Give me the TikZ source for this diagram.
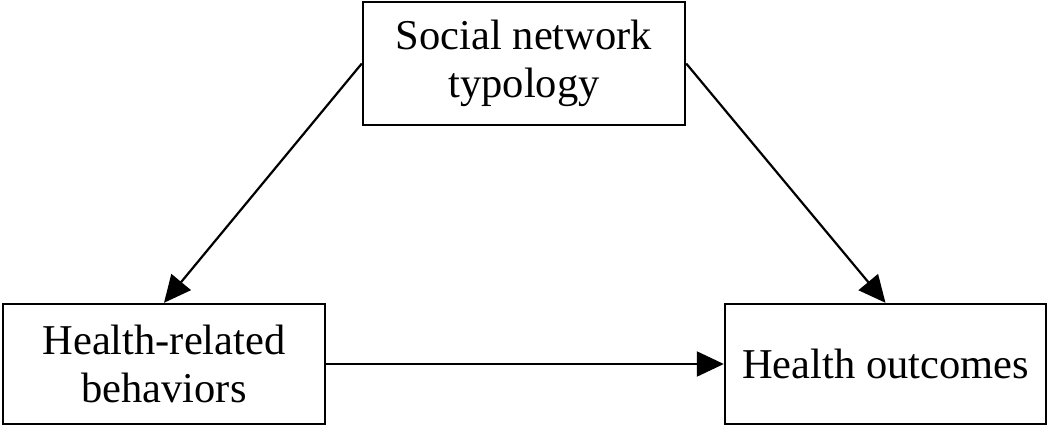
\documentclass[tikz,border=0pt]{standalone}
\usepackage{fontspec}
\setmainfont{Liberation Serif}
\usetikzlibrary{arrows.meta}
\begin{document}
\begin{tikzpicture}[x=1pt,y=-1pt,
  boxnode/.style={draw,line width=2.4pt,rectangle,align=center,inner sep=0pt,
    font=\fontsize{42.5}{48}\selectfont},
  conn/.style={line width=2.2pt,-{Triangle[length=27pt,width=25pt]}}]
\useasboundingbox (0,0) rectangle (1050,429);
\node[boxnode,minimum width=322pt,minimum height=123pt] (top) at (524,63.5) {Social network\\typology};
\node[boxnode,minimum width=322pt,minimum height=120pt] (left) at (164,364) {Health-related\\behaviors};
\node[boxnode,minimum width=321pt,minimum height=120pt] (right) at (885.5,364) {Health outcomes};
\draw[conn] (top.west) -- (left.north);
\draw[conn] (top.east) -- (right.north);
\draw[conn] (left.east) -- (right.west);
\end{tikzpicture}
\end{document}
